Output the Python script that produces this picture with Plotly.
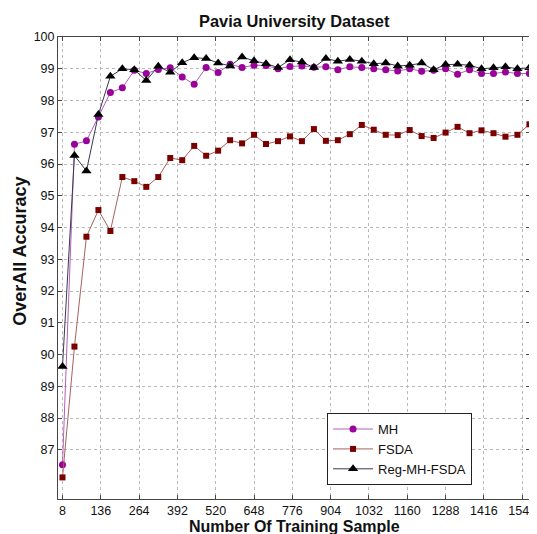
import plotly.graph_objects as go

samples = [8, 48, 88, 128, 168, 208, 248, 288, 328, 368, 408, 448, 488, 528, 568, 608,
           648, 688, 728, 768, 808, 848, 888, 928, 968, 1008, 1048, 1088, 1128, 1168,
           1208, 1248, 1288, 1328, 1368, 1408, 1448, 1488, 1528, 1568]

mh = [86.53, 96.62, 96.73, 97.48, 98.25, 98.40, 98.95, 98.85, 98.98, 99.03,
      98.74, 98.51, 99.04, 98.88, 99.14, 99.04, 99.11, 99.10, 99.00, 99.07,
      99.09, 99.05, 99.06, 98.97, 99.06, 99.04, 99.00, 98.97, 98.93, 99.00,
      98.92, 98.95, 99.00, 98.83, 98.97, 98.85, 98.85, 98.90, 98.85, 98.85]

fsda = [86.13, 90.25, 93.71, 94.55, 93.89, 95.59, 95.46, 95.28, 95.59, 96.19,
        96.12, 96.57, 96.26, 96.42, 96.75, 96.65, 96.92, 96.63, 96.72, 96.87,
        96.72, 97.10, 96.73, 96.75, 96.94, 97.23, 97.08, 96.92, 96.91, 97.07,
        96.88, 96.82, 96.99, 97.17, 96.97, 97.06, 96.97, 96.86, 96.92, 97.25]

reg = [89.62, 96.27, 95.78, 97.56, 98.76, 99.00, 98.97, 98.63, 99.08, 98.89,
       99.19, 99.35, 99.32, 99.18, 99.09, 99.37, 99.25, 99.16, 99.04, 99.28,
       99.21, 99.04, 99.32, 99.24, 99.29, 99.24, 99.16, 99.18, 99.09, 99.11,
       99.18, 98.97, 99.13, 99.14, 99.11, 99.00, 99.03, 99.06, 99.00, 99.03]

x_ticks = [8, 136, 264, 392, 520, 648, 776, 904, 1032, 1160, 1288, 1416, 1544]
y_ticks = list(range(87, 101))

FONT = "Liberation Sans, Arial, sans-serif"

fig = go.Figure()
fig.add_trace(go.Scatter(
    x=samples, y=mh, name="MH", mode="lines+markers",
    line=dict(color="#b060b8", width=1),
    marker=dict(symbol="circle", size=7, color="#9a009a"),
    cliponaxis=False))
fig.add_trace(go.Scatter(
    x=samples, y=fsda, name="FSDA", mode="lines+markers",
    line=dict(color="#a86060", width=1),
    marker=dict(symbol="square", size=6, color="#7a0000"),
    cliponaxis=False))
fig.add_trace(go.Scatter(
    x=samples, y=reg, name="Reg-MH-FSDA", mode="lines+markers",
    line=dict(color="#383850", width=1),
    marker=dict(symbol="triangle-up", size=9, color="#000000"),
    cliponaxis=False))

fig.update_layout(
    width=529, height=526,
    margin=dict(l=50, r=7, t=29, b=35, autoexpand=False),
    paper_bgcolor="white", plot_bgcolor="white",
    font=dict(family=FONT, size=12.5, color="#111111"),
    showlegend=True,
    legend=dict(x=0.57, y=0.186, xanchor="left", yanchor="top",
                bgcolor="white", bordercolor="#222222", borderwidth=1,
                font=dict(size=13), tracegroupgap=0, itemwidth=40),
    xaxis=dict(
        range=[-7, 1570], tickmode="array", tickvals=x_ticks,
        ticktext=[str(v) for v in x_ticks], automargin=False,
        showgrid=True, gridcolor="#b8b8b8", griddash="dot", gridwidth=1,
        showline=True, linecolor="#444444", linewidth=1, mirror="ticks",
        ticks="inside", ticklen=4, tickcolor="#444444",
        zeroline=False),
    yaxis=dict(
        range=[85.45, 100], tickmode="array", tickvals=y_ticks,
        ticktext=[str(v) for v in y_ticks], automargin=False,
        showgrid=True, gridcolor="#b8b8b8", griddash="dot", gridwidth=1,
        showline=True, linecolor="#444444", linewidth=1, mirror="ticks",
        ticks="inside", ticklen=4, tickcolor="#444444",
        zeroline=False),
    annotations=[
        dict(text="<b>Pavia University Dataset</b>", xref="paper", yref="paper",
             x=0.5, y=1.0342, xanchor="center", yanchor="middle",
             showarrow=False, font=dict(size=16.4, color="#111111")),
        dict(text="<b>Number Of Training Sample</b>", xref="paper", yref="paper",
             x=0.5, y=-0.0606, xanchor="center", yanchor="middle",
             showarrow=False, font=dict(size=16, color="#111111")),
        dict(text="<b>OverAll Accuracy</b>", xref="paper", yref="paper",
             x=-0.0805, y=0.535, xanchor="center", yanchor="middle", textangle=-90,
             showarrow=False, font=dict(size=18, color="#111111")),
    ],
)

fig.write_html("out.html")
